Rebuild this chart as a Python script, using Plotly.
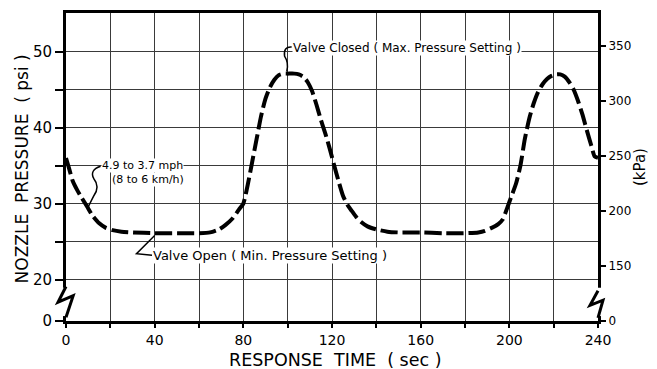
import plotly.graph_objects as go

# ---- data ----
time_sec = [0, 1.5, 3, 5, 7, 9.5, 12, 15, 18, 21, 25, 30, 40, 50, 60, 65, 69, 72, 75, 78,
            80, 82, 84, 86, 88, 90, 92, 94, 96, 98, 100, 103, 105, 107, 109, 111, 113, 115,
            117, 119, 121, 123, 125, 127, 129, 131, 133, 136, 140, 145, 150, 160, 170, 180,
            186, 189, 192, 195, 197, 199, 201, 203, 205, 207, 209, 211, 213, 215, 217, 219,
            221, 223, 225, 227, 229, 231, 233, 235, 237, 238.5, 240]
pressure_psi = [36.0, 34.5, 33.0, 31.8, 30.8, 29.6, 28.4, 27.4, 26.8, 26.5, 26.3, 26.2, 26.1,
                26.1, 26.1, 26.2, 26.6, 27.2, 28.0, 29.2, 30.0, 32.5, 35.5, 38.5, 41.5, 43.8,
                45.3, 46.3, 46.9, 47.1, 47.1, 47.1, 47.0, 46.7, 46.0, 44.8, 43.0, 41.0, 39.2,
                37.2, 35.0, 32.9, 31.0, 29.8, 29.0, 28.2, 27.6, 27.0, 26.6, 26.3, 26.2, 26.2,
                26.1, 26.1, 26.2, 26.4, 26.8, 27.3, 27.9, 29.4, 31.0, 32.6, 35.0, 38.5, 41.2,
                43.2, 44.7, 45.7, 46.4, 46.8, 47.0, 47.0, 46.7, 46.0, 45.0, 43.5, 41.7, 39.6,
                37.6, 36.2, 36.0]

x_ticks = [0, 20, 40, 60, 80, 100, 120, 140, 160, 180, 200, 220, 240]
x_labels = ["0", "", "40", "", "80", "", "120", "", "160", "", "200", "", "240"]

PSI_BOTTOM, PSI_TOP = 14.54, 55.08      # axis break: bottom is drawn as "0"
psi_ticks = [PSI_BOTTOM, 20, 25, 30, 35, 40, 45, 50]
psi_labels = ["0", "20", "", "30", "", "40", "", "50"]

KPA_PER_PSI = 6.895
kpa_ticks = [PSI_BOTTOM * KPA_PER_PSI, 150, 200, 250, 300, 350]
kpa_labels = ["0", "150", "200", "250", "300", "350"]

FONT = "DejaVu Sans"
GRID = "#3a3a3a"

fig = go.Figure()
fig.add_trace(go.Scatter(
    x=time_sec, y=pressure_psi, mode="lines",
    line=dict(color="black", width=4, dash="17px,5px", shape="spline", smoothing=0.6),
    hoverinfo="skip", showlegend=False))
# invisible trace to keep the kPa axis alive
fig.add_trace(go.Scatter(x=[0], y=[200], yaxis="y2", mode="markers",
                         marker=dict(opacity=0), hoverinfo="skip", showlegend=False))

fig.update_layout(
    width=657, height=369,
    margin=dict(l=66, r=59, t=10, b=48),
    paper_bgcolor="white", plot_bgcolor="white",
    font=dict(family=FONT, color="black"),
    xaxis=dict(range=[0, 240], tickvals=x_ticks, ticktext=x_labels,
               showgrid=True, gridcolor=GRID, gridwidth=1,
               showline=True, linecolor="black", linewidth=3, mirror=True,
               ticks="outside", ticklen=4, tickwidth=2, tickcolor="black",
               tickfont=dict(size=14, family=FONT), zeroline=False),
    yaxis=dict(range=[PSI_BOTTOM, PSI_TOP], tickvals=psi_ticks, ticktext=psi_labels,
               showgrid=True, gridcolor=GRID, gridwidth=1,
               showline=True, linecolor="black", linewidth=3, mirror=True,
               ticks="outside", ticklen=8, tickwidth=2, tickcolor="black",
               tickfont=dict(size=15, family=FONT), zeroline=False),
    yaxis2=dict(range=[PSI_BOTTOM * KPA_PER_PSI, PSI_TOP * KPA_PER_PSI], overlaying="y",
                side="right", tickvals=kpa_ticks, ticktext=kpa_labels,
                showgrid=False, zeroline=False, showline=False,
                ticks="outside", ticklen=7, tickwidth=2, tickcolor="black",
                tickfont=dict(size=12, family=FONT)),
)

# axis titles
fig.add_annotation(text="NOZZLE  PRESSURE  ( psi )", textangle=-90, xref="paper", yref="paper",
                   x=-0.083, y=0.495, xanchor="center", yanchor="middle",
                   showarrow=False, font=dict(size=17, family=FONT))
fig.add_annotation(text="RESPONSE  TIME  ( sec )", xref="paper", yref="paper",
                   x=0.506, y=-0.126, xanchor="center", yanchor="middle",
                   showarrow=False, font=dict(size=17.5, family=FONT))
fig.add_annotation(text="(kPa)", textangle=-90, xref="paper", yref="paper",
                   x=1.079, y=0.50, xanchor="center", yanchor="middle",
                   showarrow=False, font=dict(size=15, family=FONT))

# text notes
notes = [
    ("4.9 to 3.7 mph", 16.0, 35.0, 11),
    ("(8 to 6 km/h)", 20.5, 33.2, 11),
    ("Valve Open ( Min. Pressure Setting )", 39.0, 23.1, 13),
    ("Valve Closed ( Max. Pressure Setting )", 101.8, 50.5, 12),
]
for txt, tx, ty, fs in notes:
    fig.add_annotation(text=txt, x=tx, y=ty, xref="x", yref="y", xanchor="left",
                       yanchor="middle", showarrow=False, font=dict(size=fs, family=FONT),
                       bgcolor="white", borderpad=0)

lead = dict(color="black", width=1.5)
fig.add_shape(type="path", xref="x", yref="y", line=lead,
              path="M 15.6,34.9 Q 10.5,34.4 12.5,33.3 Q 15.5,32.2 12.5,31.0 L 9.9,29.5")
fig.add_shape(type="path", xref="x", yref="y", line=lead,
              path="M 40.0,25.8 L 31.8,23.4 L 38.8,23.2")
fig.add_shape(type="path", xref="x", yref="y", line=lead,
              path="M 101.8,50.6 Q 98.0,50.7 98.6,49.4 Q 100.6,48.5 99.6,47.4")

# axis breaks (zig-zag) on both sides
for x0, x1 in [(-0.009, 0.009), (0.991, 1.009)]:
    fig.add_shape(type="rect", xref="paper", yref="paper", x0=x0, x1=x1, y0=0.016, y1=0.108,
                  line=dict(width=0), fillcolor="white", layer="above")
fig.add_shape(type="path", xref="paper", yref="paper", layer="above",
              line=dict(color="black", width=3),
              path="M 0,0.112 L -0.015,0.061 L 0.0135,0.082 L 0,0.012")
fig.add_shape(type="path", xref="paper", yref="paper", layer="above",
              line=dict(color="black", width=3),
              path="M 1,0.098 L 0.985,0.051 L 1.0094,0.0675 L 1,0.010")

fig.write_html("out.html", config={"displayModeBar": False, "staticPlot": True},
               post_script="document.body.style.margin='0';")
